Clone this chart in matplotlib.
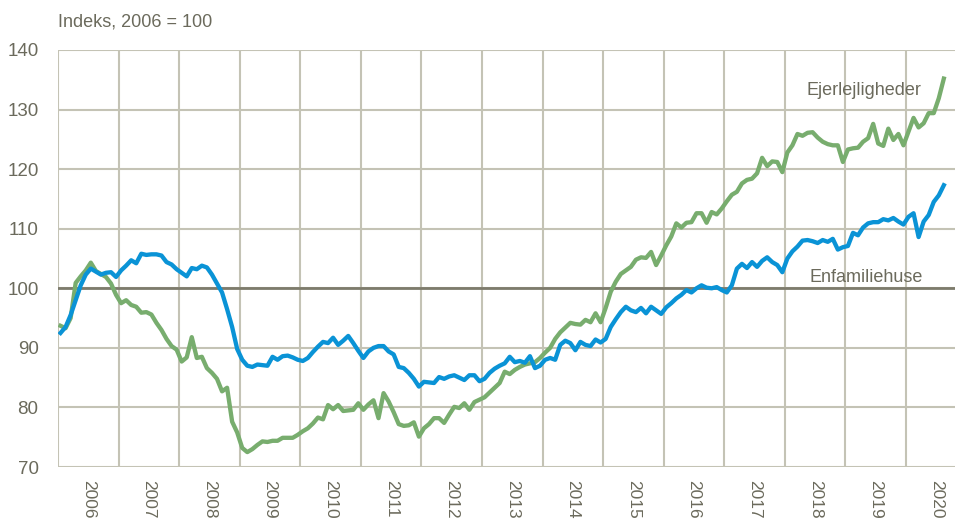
import matplotlib
matplotlib.use("Agg")
import matplotlib.pyplot as plt
import numpy as np

# Monthly index values, Jan 2006 - Aug 2020 (2006 = 100)
months = np.arange(176)
year_ticks = list(range(2006, 2021))
year_labels = [str(y) for y in year_ticks]

enfamiliehuse = [
    92.5, 93.5, 95.5, 98.0, 100.5, 102.3, 103.3, 102.8, 102.3, 102.6, 102.7, 101.9,
    103.0, 103.8, 104.7, 104.2, 105.8, 105.6, 105.7, 105.7, 105.5, 104.4, 104.0, 103.2,
    102.6, 102.0, 103.4, 103.2, 103.8, 103.5, 102.3, 100.8, 99.3, 96.5, 93.5, 89.8,
    88.0, 87.0, 86.8, 87.2, 87.1, 87.0, 88.5, 88.0, 88.6, 88.7, 88.4, 88.0,
    87.8, 88.3, 89.3, 90.2, 91.0, 90.8, 91.7, 90.5, 91.2, 92.0, 90.8, 89.5,
    88.3, 89.4, 90.0, 90.3, 90.3, 89.4, 88.9, 86.8, 86.6, 85.8, 84.8, 83.5,
    84.3, 84.2, 84.1, 85.1, 84.8, 85.2, 85.4, 85.0, 84.6, 85.4, 85.4, 84.4,
    84.8, 85.8, 86.5, 87.0, 87.4, 88.5, 87.6, 87.8, 87.5, 88.6, 86.6, 87.0,
    88.0, 88.3, 88.0, 90.5, 91.2, 90.8, 89.6, 91.0, 90.5, 90.3, 91.4, 90.9,
    91.5, 93.5, 94.8, 96.0, 96.9, 96.3, 96.0, 96.7, 95.8, 96.9, 96.3, 95.7,
    96.8, 97.5, 98.3, 98.9, 99.7, 99.3, 100.0, 100.5, 100.1, 100.0, 100.2, 99.7,
    99.3, 100.5, 103.3, 104.1, 103.4, 104.4, 103.6, 104.6, 105.2, 104.4, 103.9, 102.7,
    105.0, 106.2, 107.0, 108.0, 108.1, 107.9, 107.6, 108.1, 107.8, 108.3, 106.5, 106.9,
    107.1, 109.3, 108.9, 110.2, 110.9, 111.1, 111.1, 111.6, 111.4, 111.8, 111.2, 110.7,
    112.0, 112.6, 108.6, 111.2, 112.3, 114.5, 115.6, 117.3,
]

ejerlejligheder = [
    93.7, 93.3, 95.0, 100.9, 102.0, 103.0, 104.3, 102.9, 102.4, 101.9, 100.8, 98.9,
    97.5, 98.0, 97.2, 96.9, 95.9, 96.0, 95.6, 94.2, 93.0, 91.5, 90.3, 89.7,
    87.7, 88.4, 91.8, 88.3, 88.5, 86.6, 85.8, 84.8, 82.7, 83.3, 77.6, 75.8,
    73.2, 72.5, 73.0, 73.7, 74.3, 74.2, 74.4, 74.4, 74.9, 74.9, 74.9, 75.4,
    76.0, 76.5, 77.3, 78.3, 78.0, 80.4, 79.7, 80.4, 79.4, 79.5, 79.6, 80.7,
    79.6, 80.5, 81.2, 78.2, 82.4, 81.0, 79.2, 77.2, 76.9, 77.0, 77.5, 75.1,
    76.5, 77.2, 78.2, 78.2, 77.4, 78.8, 80.1, 79.9, 80.7, 79.6, 80.9, 81.3,
    81.7, 82.5, 83.3, 84.1, 86.0, 85.6, 86.3, 86.8, 87.2, 87.4, 87.6, 88.3,
    89.2, 90.0, 91.5, 92.6, 93.4, 94.2, 94.0, 93.9, 94.7, 94.3, 95.8, 94.3,
    96.7, 99.4, 101.1, 102.4, 103.0, 103.6, 104.8, 105.2, 105.1, 106.1, 103.9, 105.5,
    107.2, 108.7, 110.9, 110.2, 111.0, 111.1, 112.6, 112.6, 111.0, 112.8, 112.4, 113.4,
    114.6, 115.7, 116.2, 117.6, 118.2, 118.4, 119.3, 121.9, 120.5, 121.3, 121.2, 119.5,
    122.8, 124.0, 125.9, 125.6, 126.1, 126.2, 125.3, 124.6, 124.2, 124.0, 124.0, 121.2,
    123.3, 123.5, 123.6, 124.6, 125.2, 127.6, 124.3, 123.9, 126.8, 124.9, 125.9, 124.0,
    126.3, 128.6, 127.0, 127.7, 129.4, 129.4, 131.9, 135.2,
]

y_ticks = [70, 80, 90, 100, 110, 120, 130, 140]

TXT = '#6b6a5c'
GRID = '#c4c3b5'
plt.rcParams['font.family'] = ['Liberation Sans', 'DejaVu Sans']

fig = plt.figure(figsize=(9.55, 5.19), dpi=100)
ax = fig.add_axes([58/955, 1-467/519, 1-58/955, (467-50)/519])

x = 2006 + (months + 0.5) / 12.0
ax.plot(x, ejerlejligheder, color='#78ad6e', lw=3.1, solid_joinstyle='round', zorder=3)
ax.plot(x, enfamiliehuse, color='#0a93d6', lw=3.1, solid_joinstyle='round', zorder=4)

ax.set_xlim(2006, 2006 + 897/60.57)
ax.set_ylim(70, 140)
ax.set_yticks(y_ticks)
ax.set_yticklabels([str(v) for v in y_ticks])
ax.set_xticks([y + 0.5 for y in year_ticks])
ax.set_xticklabels(year_labels, rotation=270, va='top', ha='center', fontsize=12.5)
ax.grid(False)
for yv in y_ticks:
    ax.axhline(yv, color=GRID, lw=1.5, zorder=1)
for xv in year_ticks:
    ax.axvline(xv, color=GRID, lw=1.5, zorder=1)
ax.axhline(100, color='#7d7b6c', lw=2.0, zorder=2)

for s in ax.spines.values():
    s.set_visible(False)
ax.tick_params(axis='both', which='both', length=0, colors=TXT)
ax.tick_params(axis='y', pad=14, labelsize=13.5)
ax.tick_params(axis='x', pad=9)

fig.text(58/955, 1-22/519, 'Indeks, 2006 = 100', color=TXT, fontsize=13,
         ha='left', va='center')
ax.text(2006 + (807-58)/60.57, 130 + (109.6-91)/5.957, 'Ejerlejligheder', color=TXT,
        fontsize=13, ha='left', va='center')
ax.text(2006 + (809-58)/60.57, 100 + (288-277)/5.957, 'Enfamiliehuse', color=TXT,
        fontsize=13, ha='left', va='center')

fig.savefig('out.png', dpi=100)
